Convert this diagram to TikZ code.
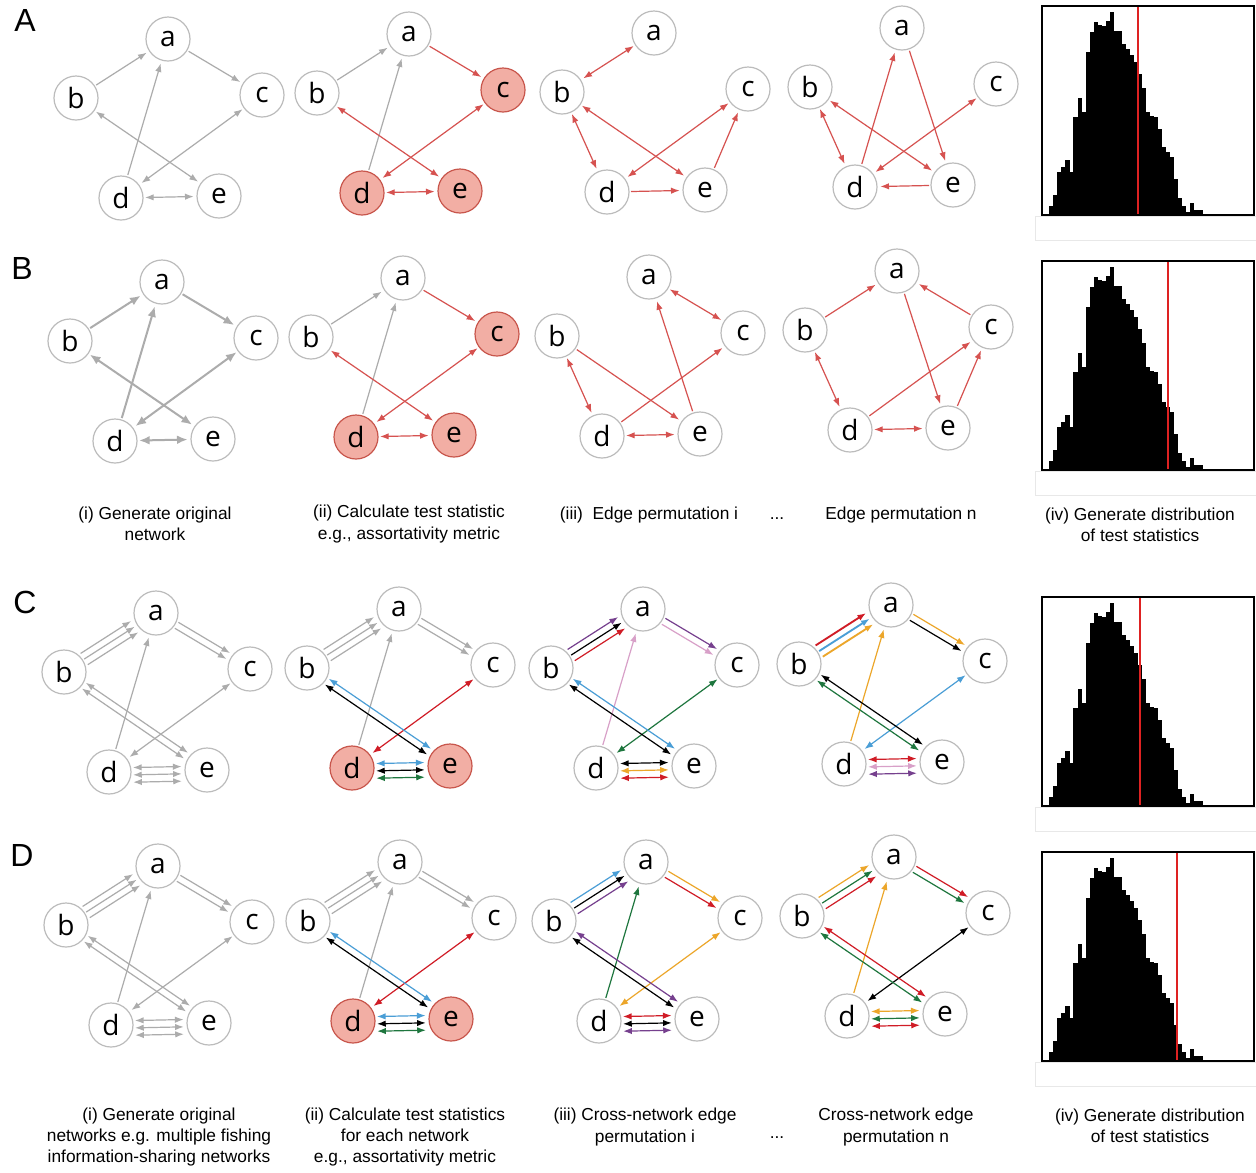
\documentclass[tikz,border=0pt]{standalone}
\usepackage{fontspec}
\setmainfont{Liberation Sans}
\newfontfamily\vertexfont{Open Sans}
\usetikzlibrary{arrows.meta,calc}

\definecolor{edgegray}{RGB}{172,172,172}
\definecolor{ringgray}{RGB}{188,188,188}
\definecolor{edgered}{RGB}{214,82,80}
\definecolor{hotfill}{RGB}{242,174,164}
\definecolor{hotring}{RGB}{200,86,76}
\definecolor{netblue}{RGB}{74,158,214}
\definecolor{netgreen}{RGB}{30,118,62}
\definecolor{netred}{RGB}{208,28,38}
\definecolor{netorange}{RGB}{236,166,42}
\definecolor{netpurple}{RGB}{118,64,142}
\definecolor{netpink}{RGB}{216,160,200}
\definecolor{statred}{RGB}{222,34,34}

\tikzset{
  vertex/.style={circle, draw=ringgray, line width=0.9pt, fill=white, minimum size=33pt,
    inner sep=0pt, font=\vertexfont\fontsize{21}{21}\selectfont},
  hot/.style={fill=hotfill, draw=hotring},
  link/.style={line width=0.9pt, shorten <=18pt, shorten >=19pt},
  heavy/.style={line width=1.5pt, >={Latex[length=8pt,width=6.5pt]}},
  caption/.style={align=center, font=\fontsize{13}{16}\selectfont},
  tag/.style={font=\fontsize{24}{24}\selectfont},
  ghost/.style={draw=gray!18, line width=0.6pt},
}

% five vertices of one network, placed from the position of a
\newcommand{\netnodes}[5]{%
  \node[vertex] (#1a) at (#2,#3) {a};
  \node[vertex] (#1b) at (#2-92,#3+59) {b};
  \node[vertex,#4] (#1c) at (#2+94,#3+56) {c};
  \node[vertex,#5] (#1d) at (#2-47,#3+159) {d};
  \node[vertex,#5] (#1e) at (#2+51,#3+157) {e};
}
% one of several parallel edges, shifted sideways by #4
\newcommand{\lane}[4][]{\draw[link,#1] ($(#2)!#4!90:(#3)$) -- ($(#3)!#4!-90:(#2)$);}
% histogram of the test statistic: box left, box bottom, observed value
\newcommand{\histo}[3]{%
  \begin{scope}[shift={(#1,#2)}, yscale=-1]
    \foreach \h [count=\k from 0] in {9,20,43,48,55,43,98,117,103,163,183,193,190,189,194,203,184,184,171,166,
      160,153,141,127,103,99,98,86,68,63,58,36,17,9,3,12,5,5}
      \fill (7.3+4.03*\k,0) rectangle ++(4.1,\h);
  \end{scope}
  \draw[statred, line width=1.2pt] (#3,#2) -- (#3,#2-209);
  \draw[line width=1.5pt] (#1,#2) rectangle (#1+212,#2-209);
  \draw[ghost] (#1-7,#2+1) rectangle (1256,#2+25);
}

\begin{document}
\begin{tikzpicture}[x=0.75pt, y=-0.75pt, >={Latex[length=6.5pt,width=4.8pt]}]
\useasboundingbox (0,0) rectangle (1256,1172);
\fill[white] (0,0) rectangle (1256,1172);

\node[tag] (tagA) at (25,20) {A};
\node[tag] (tagB) at (22,268) {B};
\node[tag] (tagC) at (25,602) {C};
\node[tag] (tagD) at (22,855) {D};

%% row A
\netnodes{A1}{168}{39}{}{}
\draw[link,->,edgegray] (A1b.center) -- (A1a.center);
\draw[link,->,edgegray] (A1a.center) -- (A1c.center);
\draw[link,->,edgegray] (A1d.center) -- (A1a.center);
\draw[link,<->,edgegray] (A1c.center) -- (A1d.center);
\draw[link,<->,edgegray] (A1b.center) -- (A1e.center);
\draw[link,<->,edgegray] (A1d.center) -- (A1e.center);

\netnodes{A2}{409}{34}{hot}{hot}
\draw[link,->,edgegray] (A2b.center) -- (A2a.center);
\draw[link,->,edgegray] (A2d.center) -- (A2a.center);
\draw[link,->,edgered] (A2a.center) -- (A2c.center);
\draw[link,<->,edgered] (A2c.center) -- (A2d.center);
\draw[link,<->,edgered] (A2b.center) -- (A2e.center);
\draw[link,<->,edgered] (A2d.center) -- (A2e.center);

\netnodes{A3}{654}{33}{}{}
\draw[link,<->,edgered] (A3a.center) -- (A3b.center);
\draw[link,<->,edgered] (A3b.center) -- (A3d.center);
\draw[link,<->,edgered] (A3b.center) -- (A3e.center);
\draw[link,<->,edgered] (A3c.center) -- (A3d.center);
\draw[link,->,edgered] (A3e.center) -- (A3c.center);
\draw[link,->,edgered] (A3d.center) -- (A3e.center);

\netnodes{A4}{902}{28}{}{}
\draw[link,->,edgered] (A4d.center) -- (A4a.center);
\draw[link,->,edgered] (A4a.center) -- (A4e.center);
\draw[link,<->,edgered] (A4b.center) -- (A4d.center);
\draw[link,<->,edgered] (A4b.center) -- (A4e.center);
\draw[link,<->,edgered] (A4c.center) -- (A4d.center);
\draw[link,->,edgered] (A4e.center) -- (A4d.center);

\histo{1042}{215}{1138}

%% row B
\netnodes{B1}{162}{282}{}{}
\draw[link,heavy,->,edgegray] (B1b.center) -- (B1a.center);
\draw[link,heavy,->,edgegray] (B1a.center) -- (B1c.center);
\draw[link,heavy,->,edgegray] (B1d.center) -- (B1a.center);
\draw[link,heavy,<->,edgegray] (B1c.center) -- (B1d.center);
\draw[link,heavy,<->,edgegray] (B1b.center) -- (B1e.center);
\draw[link,heavy,<->,edgegray] (B1d.center) -- (B1e.center);

\netnodes{B2}{403}{278}{hot}{hot}
\draw[link,->,edgegray] (B2b.center) -- (B2a.center);
\draw[link,->,edgegray] (B2d.center) -- (B2a.center);
\draw[link,->,edgered] (B2a.center) -- (B2c.center);
\draw[link,<->,edgered] (B2c.center) -- (B2d.center);
\draw[link,<->,edgered] (B2b.center) -- (B2e.center);
\draw[link,<->,edgered] (B2d.center) -- (B2e.center);

\netnodes{B3}{649}{277}{}{}
\draw[link,<->,edgered] (B3a.center) -- (B3c.center);
\draw[link,->,edgered] (B3e.center) -- (B3a.center);
\draw[link,<->,edgered] (B3b.center) -- (B3d.center);
\draw[link,->,edgered] (B3b.center) -- (B3e.center);
\draw[link,->,edgered] (B3d.center) -- (B3c.center);
\draw[link,<->,edgered] (B3d.center) -- (B3e.center);

\netnodes{B4}{897}{271}{}{}
\draw[link,->,edgered] (B4b.center) -- (B4a.center);
\draw[link,->,edgered] (B4c.center) -- (B4a.center);
\draw[link,->,edgered] (B4a.center) -- (B4e.center);
\draw[link,<->,edgered] (B4b.center) -- (B4d.center);
\draw[link,->,edgered] (B4d.center) -- (B4c.center);
\draw[link,->,edgered] (B4e.center) -- (B4c.center);
\draw[link,<->,edgered] (B4d.center) -- (B4e.center);

\histo{1042}{470}{1168}

\node[caption] (capBi) at (155,524) {(i) Generate original\\network};
\node[caption] (capBii) at (409,524) {(ii) Calculate test statistic\\e.g., assortativity metric};
\node[caption, anchor=base] (capBiii) at (649,519) {(iii)\ \ Edge permutation i};
\node[caption, anchor=base] (dotsB) at (777,519) {...};
\node[caption, anchor=base] (capBn) at (901,519) {Edge permutation n};
\node[caption] (capBiv) at (1140,525) {(iv) Generate distribution\\of test statistics};

%% row C
\netnodes{C1}{156}{613}{}{}
\foreach \sh in {5pt,0pt,-5pt} \lane[->,edgegray]{C1b}{C1a}{\sh};
\foreach \sh in {2.6pt,-2.6pt} \lane[->,edgegray]{C1a}{C1c}{\sh};
\draw[link,->,edgegray] (C1d.center) -- (C1a.center);
\draw[link,<->,edgegray] (C1c.center) -- (C1d.center);
\foreach \sh in {2.6pt,-2.6pt} \lane[<->,edgegray]{C1b}{C1e}{\sh};
\foreach \sh in {3pt,-2.5pt,-8pt} \lane[<->,edgegray]{C1d}{C1e}{\sh};

\netnodes{C2}{399}{609}{}{hot}
\foreach \sh in {5pt,0pt,-5pt} \lane[->,edgegray]{C2b}{C2a}{\sh};
\foreach \sh in {2.6pt,-2.6pt} \lane[->,edgegray]{C2a}{C2c}{\sh};
\draw[link,->,edgegray] (C2d.center) -- (C2a.center);
\draw[link,<->,netred] (C2c.center) -- (C2d.center);
\foreach \c/\sh in {netblue/2.6pt,black/-2.6pt} \lane[<->,color=\c]{C2b}{C2e}{\sh};
\foreach \c/\sh in {netblue/3pt,black/-2.5pt,netgreen/-8pt} \lane[<->,color=\c]{C2d}{C2e}{\sh};

\netnodes{C3}{643}{609}{}{}
\foreach \c/\sh in {netpurple/5pt,black/0pt,netred/-5pt} \lane[->,color=\c]{C3b}{C3a}{\sh};
\foreach \c/\sh in {netpurple/2.6pt,netpink/-2.6pt} \lane[->,color=\c]{C3a}{C3c}{\sh};
\draw[link,->,netpink] (C3d.center) -- (C3a.center);
\draw[link,<->,netgreen] (C3c.center) -- (C3d.center);
\foreach \c/\sh in {netblue/2.6pt,black/-2.6pt} \lane[<->,color=\c]{C3b}{C3e}{\sh};
\foreach \c/\sh in {black/3pt,netorange/-2.5pt,netred/-8pt} \lane[<->,color=\c]{C3d}{C3e}{\sh};

\netnodes{C4}{891}{605}{}{}
\foreach \c/\sh in {netred/5pt,netblue/0pt,netorange/-5pt} \lane[->,line width=1.4pt,color=\c]{C4b}{C4a}{\sh};
\foreach \c/\sh in {netorange/2.6pt,black/-2.6pt} \lane[->,color=\c]{C4a}{C4c}{\sh};
\draw[link,->,netorange] (C4d.center) -- (C4a.center);
\draw[link,<->,netblue] (C4c.center) -- (C4d.center);
\foreach \c/\sh in {black/2.6pt,netgreen/-2.6pt} \lane[<->,color=\c]{C4b}{C4e}{\sh};
\foreach \c/\sh in {netred/3pt,netpink/-2.5pt,netpurple/-8pt} \lane[<->,color=\c]{C4d}{C4e}{\sh};

\histo{1042}{806}{1140}

%% row D
\netnodes{D1}{158}{866}{}{}
\foreach \sh in {5pt,0pt,-5pt} \lane[->,edgegray]{D1b}{D1a}{\sh};
\foreach \sh in {2.6pt,-2.6pt} \lane[->,edgegray]{D1a}{D1c}{\sh};
\draw[link,->,edgegray] (D1d.center) -- (D1a.center);
\draw[link,<->,edgegray] (D1c.center) -- (D1d.center);
\foreach \sh in {2.6pt,-2.6pt} \lane[<->,edgegray]{D1b}{D1e}{\sh};
\foreach \sh in {3pt,-2.5pt,-8pt} \lane[<->,edgegray]{D1d}{D1e}{\sh};

\netnodes{D2}{400}{862}{}{hot}
\foreach \sh in {5pt,0pt,-5pt} \lane[->,edgegray]{D2b}{D2a}{\sh};
\foreach \sh in {2.6pt,-2.6pt} \lane[->,edgegray]{D2a}{D2c}{\sh};
\draw[link,->,edgegray] (D2d.center) -- (D2a.center);
\draw[link,<->,netred] (D2c.center) -- (D2d.center);
\foreach \c/\sh in {netblue/2.6pt,black/-2.6pt} \lane[<->,color=\c]{D2b}{D2e}{\sh};
\foreach \c/\sh in {netblue/3pt,black/-2.5pt,netgreen/-8pt} \lane[<->,color=\c]{D2d}{D2e}{\sh};

\netnodes{D3}{646}{862}{}{}
\foreach \c/\sh in {netblue/5pt,black/0pt,netpurple/-5pt} \lane[->,color=\c]{D3b}{D3a}{\sh};
\foreach \c/\sh in {netorange/2.6pt,netred/-2.6pt} \lane[->,color=\c]{D3a}{D3c}{\sh};
\draw[link,->,netgreen] (D3d.center) -- (D3a.center);
\draw[link,<->,netorange] (D3c.center) -- (D3d.center);
\foreach \c/\sh in {netpurple/2.6pt,black/-2.6pt} \lane[<->,color=\c]{D3b}{D3e}{\sh};
\foreach \c/\sh in {netred/3pt,black/-2.5pt,netpurple/-8pt} \lane[<->,color=\c]{D3d}{D3e}{\sh};

\netnodes{D4}{894}{857}{}{}
\foreach \c/\sh in {netorange/5pt,netgreen/0pt,netred/-5pt} \lane[->,color=\c]{D4b}{D4a}{\sh};
\foreach \c/\sh in {netred/2.6pt,netgreen/-2.6pt} \lane[->,color=\c]{D4a}{D4c}{\sh};
\draw[link,->,netorange] (D4d.center) -- (D4a.center);
\draw[link,<->,black] (D4c.center) -- (D4d.center);
\foreach \c/\sh in {netred/2.6pt,netgreen/-2.6pt} \lane[<->,color=\c]{D4b}{D4e}{\sh};
\foreach \c/\sh in {netorange/3pt,netgreen/-2.5pt,netred/-8pt} \lane[<->,color=\c]{D4d}{D4e}{\sh};

\histo{1042}{1061}{1177}

\node[caption] (capDi) at (159,1137) {(i) Generate original\\networks e.g. multiple fishing\\information-sharing networks};
\node[caption] (capDii) at (405,1137) {(ii) Calculate test statistics\\for each network\\e.g., assortativity metric};
\node[caption] (capDiii) at (645,1127) {(iii) Cross-network edge\\permutation i};
\node[caption, anchor=base] (dotsD) at (777,1138) {...};
\node[caption] (capDn) at (896,1127) {Cross-network edge\\permutation n};
\node[caption] (capDiv) at (1150,1126) {(iv) Generate distribution\\of test statistics};
\end{tikzpicture}
\end{document}
